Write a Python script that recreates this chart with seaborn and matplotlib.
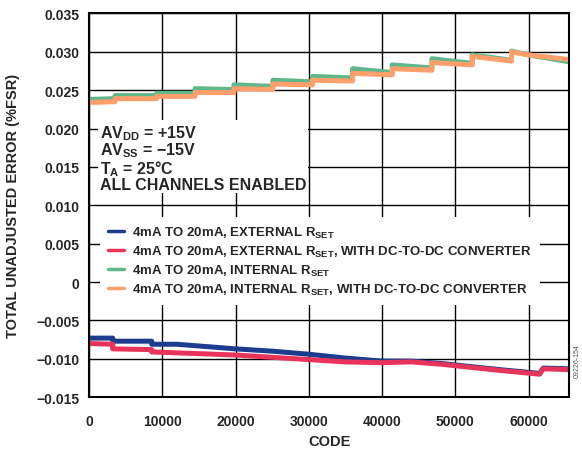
import pandas as pd
import seaborn as sns
import matplotlib.pyplot as plt

# breakpoints (duplicate codes give the vertical steps)
ext_code = [0, 3230, 3230, 8550, 8550, 12000, 20000, 25000, 30000, 35000,
            40000, 44000, 48000, 52000, 56000, 61500, 62000, 65535]
ext_err = [-0.0073, -0.0073, -0.0077, -0.0077, -0.0081, -0.0081, -0.0087, -0.0090,
           -0.0094, -0.0099, -0.0103, -0.0103, -0.0106, -0.0110, -0.0114, -0.0119,
           -0.0112, -0.0113]
ext_dc_code = [0, 3230, 3230, 8550, 8550, 20000, 30000, 35000, 40000, 44000,
               48000, 52000, 56000, 61500, 62000, 65535]
ext_dc_err = [-0.0080, -0.0081, -0.0087, -0.0088, -0.0091, -0.0095, -0.0101, -0.0104,
              -0.0105, -0.0104, -0.0107, -0.0111, -0.0115, -0.0120, -0.0113, -0.0114]

int_code = [0, 3550, 3550, 9230, 9230, 14460, 14460, 19780, 19780, 25100, 25100,
            30500, 30500, 35970, 35970, 41380, 41380, 46800, 46800, 52300, 52300,
            57660, 57660, 60000, 65535]
int_err = [0.0238, 0.0239, 0.0243, 0.0243, 0.0246, 0.0246, 0.0252, 0.0251, 0.0257,
           0.0255, 0.0263, 0.0261, 0.0268, 0.0266, 0.0278, 0.0273, 0.0283, 0.0279,
           0.0291, 0.0285, 0.0296, 0.0289, 0.0301, 0.0296, 0.0287]
int_dc_err = [0.0234, 0.0235, 0.0239, 0.0239, 0.0242, 0.0242, 0.0247, 0.0247, 0.0252,
              0.0251, 0.0258, 0.0257, 0.0263, 0.0262, 0.0272, 0.0270, 0.0278, 0.0276,
              0.0286, 0.0283, 0.0294, 0.0288, 0.0300, 0.0296, 0.0290]

labels = ["4mA TO 20mA, EXTERNAL R$_{SET}$",
          "4mA TO 20mA, EXTERNAL R$_{SET}$, WITH DC-TO-DC CONVERTER",
          "4mA TO 20mA, INTERNAL R$_{SET}$",
          "4mA TO 20mA, INTERNAL R$_{SET}$, WITH DC-TO-DC CONVERTER"]
colors = ["#1d3c8f", "#e8345a", "#5fb78a", "#ffa06c"]

y_ticks = [-0.015, -0.010, -0.005, 0, 0.005, 0.010, 0.015, 0.020, 0.025, 0.030, 0.035]
y_labels = ["\u22120.015", "\u22120.010", "\u22120.005", "0", "0.005", "0.010",
            "0.015", "0.020", "0.025", "0.030", "0.035"]
x_ticks = [0, 10000, 20000, 30000, 40000, 50000, 60000]

rows = []
for lab, codes, errs in [(labels[0], ext_code, ext_err),
                         (labels[1], ext_dc_code, ext_dc_err),
                         (labels[2], int_code, int_err),
                         (labels[3], int_code, int_dc_err)]:
    for c, e in zip(codes, errs):
        rows.append({"series": lab, "code": c, "err": e})
df = pd.DataFrame(rows)

sns.set_style("white")
plt.rcParams["font.family"] = ["Liberation Sans", "DejaVu Sans"]
plt.rcParams["font.weight"] = "bold"
plt.rcParams["mathtext.fontset"] = "custom"
plt.rcParams["mathtext.rm"] = "Liberation Sans:bold"
plt.rcParams["mathtext.it"] = "Liberation Sans:bold"
plt.rcParams["mathtext.bf"] = "Liberation Sans:bold"
plt.rcParams["axes.unicode_minus"] = True

fig = plt.figure(figsize=(5.82, 4.52), dpi=100)
ax = fig.add_axes([0.153, 0.119, 0.825, 0.849])

sns.lineplot(data=df, x="code", y="err", hue="series", hue_order=labels,
             palette=dict(zip(labels, colors)), sort=False, estimator=None,
             units="series", linewidth=3.6, ax=ax, legend=False)

ax.set_xlim(0, 65535)
ax.set_ylim(-0.015, 0.035)
ax.set_xticks(x_ticks)
ax.set_xticklabels([str(t) for t in x_ticks], fontsize=10, fontweight="bold")
ax.set_yticks(y_ticks)
ax.set_yticklabels(y_labels, fontsize=10, fontweight="bold")
ax.tick_params(axis="x", length=0, pad=12)
ax.tick_params(axis="y", length=0, pad=7)
ax.grid(True, color="black", linewidth=1.0)
ax.set_axisbelow(True)
for sp in ax.spines.values():
    sp.set_color("black")
    sp.set_linewidth(1.5)
ax.set_xlabel("CODE", fontsize=10.5, fontweight="bold")
ax.set_ylabel("TOTAL UNADJUSTED ERROR (%FSR)", fontsize=10.5, fontweight="bold")
ax.xaxis.set_label_coords(0.5, -0.097)
ax.yaxis.set_label_coords(-0.143, 0.5)

ax.text(0.022, 0.715,
        "AV$_{DD}$ = +15V\nAV$_{SS}$ = \u221215V\nT$_A$ = 25\u00b0C\nALL CHANNELS ENABLED",
        transform=ax.transAxes, fontsize=11.5, fontweight="bold", va="top", ha="left",
        linespacing=0.93, zorder=5,
        bbox=dict(facecolor="white", edgecolor="none", pad=1))

handles = [plt.Line2D([0], [0], color=c, linewidth=2.5) for c in colors]
leg = ax.legend(handles, labels, loc="upper left", bbox_to_anchor=(0.032, 0.46),
                frameon=True, fontsize=9.5, handlelength=1.2, handletextpad=0.6,
                labelspacing=0.3, borderpad=0.3, borderaxespad=0)
leg.get_frame().set_edgecolor("none")
leg.get_frame().set_facecolor("white")
leg.get_frame().set_alpha(1)
leg.get_frame().set_boxstyle("square", pad=0.3)
for t in leg.get_texts():
    t.set_fontweight("bold")

fig.text(0.992, 0.2, "09226-154", rotation=90, fontsize=5, color="#555555",
         ha="center", va="center", fontweight="normal")

fig.savefig("out.png", dpi=100)
